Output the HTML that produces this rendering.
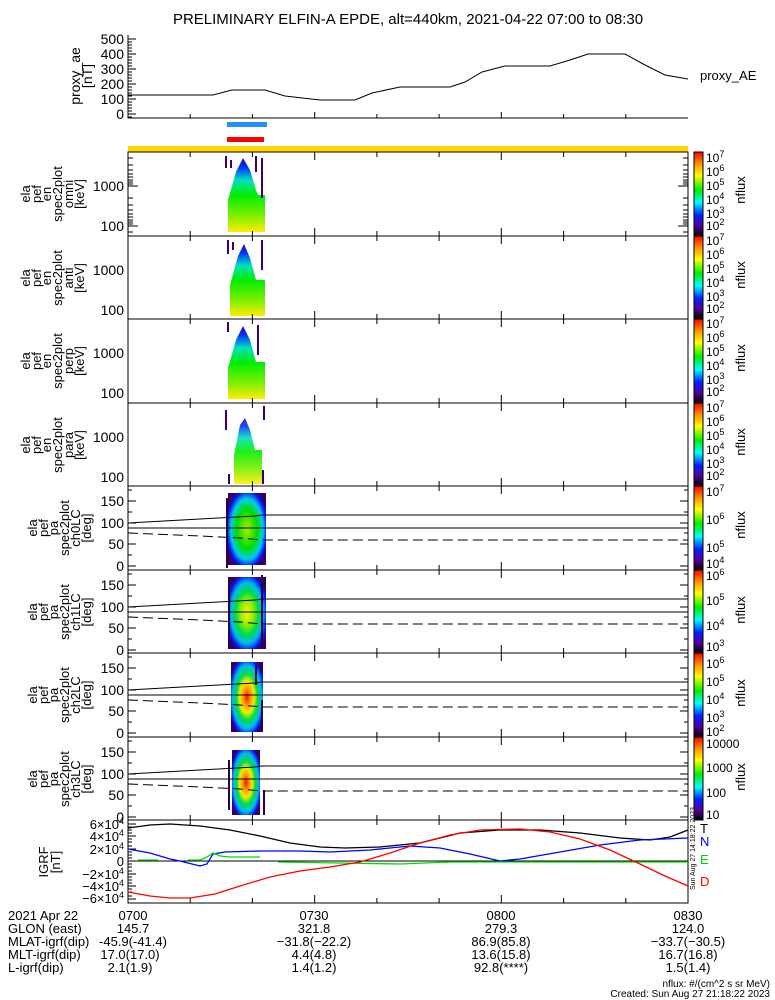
<!DOCTYPE html>
<html><head><meta charset="utf-8"><style>
html,body{margin:0;padding:0;background:#fff}
svg{display:block;font-family:"Liberation Sans",sans-serif}
text{fill:#000}
</style></head><body>
<svg width="775" height="1000" viewBox="0 0 775 1000" xmlns="http://www.w3.org/2000/svg">
<defs>
<linearGradient id="cb" x1="0" y1="0" x2="0" y2="1">
<stop offset="0" stop-color="#ff0000"/><stop offset="0.15" stop-color="#ff9900"/><stop offset="0.28" stop-color="#ffff00"/><stop offset="0.45" stop-color="#00ee00"/><stop offset="0.6" stop-color="#00ffff"/><stop offset="0.75" stop-color="#0022ff"/><stop offset="0.88" stop-color="#55009a"/><stop offset="1" stop-color="#000000"/>
</linearGradient>
<linearGradient id="en" x1="0" y1="0" x2="0" y2="1">
<stop offset="0" stop-color="#3a008a"/><stop offset="0.12" stop-color="#0030ff"/><stop offset="0.3" stop-color="#00e0c0"/><stop offset="0.5" stop-color="#00ee00"/><stop offset="0.8" stop-color="#88ee00"/><stop offset="1" stop-color="#ffee00"/>
</linearGradient>
<radialGradient id="pa0" cx="0.5" cy="0.5" r="0.6"><stop offset="0" stop-color="#aaee00"/><stop offset="0.45" stop-color="#00dd00"/><stop offset="0.7" stop-color="#00ccee"/><stop offset="0.88" stop-color="#1010ee"/><stop offset="1" stop-color="#33005a"/></radialGradient>
<radialGradient id="pa1" cx="0.5" cy="0.5" r="0.6"><stop offset="0" stop-color="#ffee00"/><stop offset="0.3" stop-color="#88ee00"/><stop offset="0.5" stop-color="#00dd44"/><stop offset="0.7" stop-color="#00bbee"/><stop offset="0.88" stop-color="#1010ee"/><stop offset="1" stop-color="#33005a"/></radialGradient>
<radialGradient id="pa2" cx="0.5" cy="0.5" r="0.6"><stop offset="0" stop-color="#ff1100"/><stop offset="0.2" stop-color="#ff9900"/><stop offset="0.38" stop-color="#eeee00"/><stop offset="0.55" stop-color="#00dd44"/><stop offset="0.75" stop-color="#00bbee"/><stop offset="0.92" stop-color="#1010ee"/><stop offset="1" stop-color="#33005a"/></radialGradient>
<g id="tk">
<path d="M190.2 0v5M252.4 0v5M314.7 0v8M376.9 0v5M439.1 0v5M501.3 0v8M563.6 0v5M625.8 0v5" stroke="#000" stroke-width="1"/>
</g>
</defs>

<text x="408" y="24" font-size="15" text-anchor="middle">PRELIMINARY ELFIN-A EPDE, alt=440km, 2021-04-22 07:00 to 08:30</text>

<!-- proxy AE -->
<g stroke="#000" fill="none">
<path d="M128 35V118H688"/>
<path d="M128 39h8M128 54h8M128 69h8M128 84h8M128 99h8M128 114h8" />
<path d="M128 42h4M128 45h4M128 48h4M128 51h4M128 57h4M128 60h4M128 63h4M128 66h4M128 72h4M128 75h4M128 78h4M128 81h4M128 87h4M128 90h4M128 93h4M128 96h4M128 102h4M128 105h4M128 108h4M128 111h4M128 117h4"/>
<path d="M190.2 118v-4M252.4 118v-4M314.7 118v-6M376.9 118v-4M439.1 118v-4M501.3 118v-6M563.6 118v-4M625.8 118v-4"/>
<path d="M128 95H213L232 90H265L285 96L320 100L355 100L372 93L400 87H450L465 82L482 72L505 66H550L570 60L588 54H625L645 65L665 75L688 79" stroke-width="1"/>
</g>
<g font-size="14" text-anchor="end"><text x="124" y="44">500</text><text x="124" y="59">400</text><text x="124" y="74">300</text><text x="124" y="89">200</text><text x="124" y="104">100</text><text x="124" y="119">0</text></g>
<text transform="translate(80,76) rotate(-90)" font-size="14" text-anchor="middle">proxy_ae</text>
<text transform="translate(92,76) rotate(-90)" font-size="14" text-anchor="middle">[nT]</text>
<text x="700" y="80" font-size="13">proxy_AE</text>

<rect x="227" y="122" width="40" height="5" fill="#1e90ff"/>
<rect x="227" y="137" width="37" height="5" fill="#ff0000"/>
<rect x="128" y="146" width="560" height="6" fill="#ffd800"/>

<!-- energy spectrogram blobs -->
<g>
<path d="M228 232V200L236 172L243 158L250 170L256 190L258 195H265V232Z" fill="url(#en)"/>
<path d="M230 316V285L238 256L244 244L250 258L256 280H265V316Z" fill="url(#en)"/>
<path d="M228 399V368L236 340L243 326L250 340L256 362H265V399Z" fill="url(#en)"/>
<path d="M234 484V455L240 425L245 418L250 430L255 450H262V484Z" fill="url(#en)" opacity="0.9"/>
<path d="M226 156v12M231 160v8M256 156v16M262 158v40M228 240v14M233 242v8M262 240v30M228 322v10M258 325v30M226 410v20M264 406v14M263 470v14M229 474v10" stroke="#3a006a" stroke-width="2"/>
</g>
<!-- PA blobs -->
<g>
<rect x="228" y="493" width="38" height="72" fill="url(#pa0)"/>
<rect x="228" y="577" width="38" height="72" fill="url(#pa1)"/>
<rect x="231" y="662" width="32" height="70" fill="url(#pa2)"/>
<rect x="232" y="750" width="28" height="65" fill="url(#pa2)"/>
<path d="M227 498v70M229 580v62M262 575v72M256 665v20M262 700v30M229 760v50M264 790v25" stroke="#2a0050" stroke-width="2"/>
</g>

<!-- spectrogram panel frames -->
<g stroke="#000" fill="none">
<rect x="128" y="152" width="560" height="84"/>
<rect x="128" y="236" width="560" height="83"/>
<rect x="128" y="319" width="560" height="84"/>
<rect x="128" y="403" width="560" height="83"/>
<rect x="128" y="486" width="560" height="84"/>
<rect x="128" y="570" width="560" height="83"/>
<rect x="128" y="653" width="560" height="84"/>
<rect x="128" y="737" width="560" height="83"/>
<rect x="128" y="820" width="560" height="83"/>
</g>
<g>
<use href="#tk" y="152"/><use href="#tk" y="236"/><use href="#tk" y="319"/><use href="#tk" y="403"/><use href="#tk" y="486"/><use href="#tk" y="570"/><use href="#tk" y="653"/><use href="#tk" y="737"/><use href="#tk" y="820"/>
<use href="#tk" transform="translate(0,236) scale(1,-1)"/><use href="#tk" transform="translate(0,319) scale(1,-1)"/><use href="#tk" transform="translate(0,403) scale(1,-1)"/><use href="#tk" transform="translate(0,486) scale(1,-1)"/><use href="#tk" transform="translate(0,570) scale(1,-1)"/><use href="#tk" transform="translate(0,653) scale(1,-1)"/><use href="#tk" transform="translate(0,737) scale(1,-1)"/><use href="#tk" transform="translate(0,820) scale(1,-1)"/><use href="#tk" transform="translate(0,903) scale(1,-1)"/>
</g>
<!-- energy y ticks -->
<g stroke="#000">
<path d="M128 186h10M128 226h10M128 158h5M128 165h5M128 170h5M128 174h5M128 177h5M128 180h5M128 182h5M128 184h5M128 198h5M128 205h5M128 210h5M128 214h5M128 217h5M128 220h5M128 222h5M128 224h5M128 232h5M688 186h-10M688 226h-10M688 158h-5M688 165h-5M688 170h-5M688 174h-5M688 177h-5M688 180h-5M688 182h-5M688 184h-5M688 198h-5M688 205h-5M688 210h-5M688 214h-5M688 217h-5M688 220h-5M688 222h-5M688 224h-5M688 232h-5" id="ey"/>
</g>
<use href="#ey" y="84"/><use href="#ey" y="167"/><use href="#ey" y="251"/>
<g font-size="14" text-anchor="end">
<text x="124" y="191">1000</text><text x="124" y="231">100</text>
<text x="124" y="275">1000</text><text x="124" y="315">100</text>
<text x="124" y="358">1000</text><text x="124" y="398">100</text>
<text x="124" y="442">1000</text><text x="124" y="482">100</text>
</g>
<!-- PA y ticks + lines -->
<g id="pa">
<g stroke="#000" fill="none">
<path d="M128 566h8M128 544h8M128 523h8M128 501h8M128 490h4M128 555h4M128 533h4M128 512h4M688 566h-8M688 544h-8M688 523h-8M688 501h-8M688 555h-4M688 533h-4M688 512h-4M688 490h-4"/>
<path d="M128 523L200 519L255 516L262 515H688"/>
<path d="M128 528H688"/>
<path d="M128 533L200 536L240 538L262 540H688" stroke-dasharray="10,5"/>
</g>
<g font-size="14" text-anchor="end"><text x="124" y="571">0</text><text x="124" y="549">50</text><text x="124" y="528">100</text><text x="124" y="506">150</text></g>
</g>
<use href="#pa" y="84"/><use href="#pa" y="167"/><use href="#pa" y="251"/>

<!-- left labels -->
<g font-size="13" text-anchor="middle">
<g transform="translate(0,194)"><text transform="translate(30,0) rotate(-90)">ela</text><text transform="translate(41,0) rotate(-90)">pef</text><text transform="translate(51,0) rotate(-90)">en</text><text transform="translate(62,0) rotate(-90)">spec2plot</text><text transform="translate(73,0) rotate(-90)">omni</text><text transform="translate(84,0) rotate(-90)">[keV]</text></g>
<g transform="translate(0,278)"><text transform="translate(30,0) rotate(-90)">ela</text><text transform="translate(41,0) rotate(-90)">pef</text><text transform="translate(51,0) rotate(-90)">en</text><text transform="translate(62,0) rotate(-90)">spec2plot</text><text transform="translate(73,0) rotate(-90)">anti</text><text transform="translate(84,0) rotate(-90)">[keV]</text></g>
<g transform="translate(0,361)"><text transform="translate(30,0) rotate(-90)">ela</text><text transform="translate(41,0) rotate(-90)">pef</text><text transform="translate(51,0) rotate(-90)">en</text><text transform="translate(62,0) rotate(-90)">spec2plot</text><text transform="translate(73,0) rotate(-90)">perp</text><text transform="translate(84,0) rotate(-90)">[keV]</text></g>
<g transform="translate(0,445)"><text transform="translate(30,0) rotate(-90)">ela</text><text transform="translate(41,0) rotate(-90)">pef</text><text transform="translate(51,0) rotate(-90)">en</text><text transform="translate(62,0) rotate(-90)">spec2plot</text><text transform="translate(73,0) rotate(-90)">para</text><text transform="translate(84,0) rotate(-90)">[keV]</text></g>
<g transform="translate(0,528)"><text transform="translate(37,0) rotate(-90)">ela</text><text transform="translate(48,0) rotate(-90)">pef</text><text transform="translate(58,0) rotate(-90)">pa</text><text transform="translate(69,0) rotate(-90)">spec2plot</text><text transform="translate(80,0) rotate(-90)">ch0LC</text><text transform="translate(91,0) rotate(-90)">[deg]</text></g>
<g transform="translate(0,612)"><text transform="translate(37,0) rotate(-90)">ela</text><text transform="translate(48,0) rotate(-90)">pef</text><text transform="translate(58,0) rotate(-90)">pa</text><text transform="translate(69,0) rotate(-90)">spec2plot</text><text transform="translate(80,0) rotate(-90)">ch1LC</text><text transform="translate(91,0) rotate(-90)">[deg]</text></g>
<g transform="translate(0,695)"><text transform="translate(37,0) rotate(-90)">ela</text><text transform="translate(48,0) rotate(-90)">pef</text><text transform="translate(58,0) rotate(-90)">pa</text><text transform="translate(69,0) rotate(-90)">spec2plot</text><text transform="translate(80,0) rotate(-90)">ch2LC</text><text transform="translate(91,0) rotate(-90)">[deg]</text></g>
<g transform="translate(0,779)"><text transform="translate(37,0) rotate(-90)">ela</text><text transform="translate(48,0) rotate(-90)">pef</text><text transform="translate(58,0) rotate(-90)">pa</text><text transform="translate(69,0) rotate(-90)">spec2plot</text><text transform="translate(80,0) rotate(-90)">ch3LC</text><text transform="translate(91,0) rotate(-90)">[deg]</text></g>
<text transform="translate(48,862) rotate(-90)">IGRF</text><text transform="translate(60,862) rotate(-90)">[nT]</text>
</g>

<!-- colorbars -->
<g stroke="#000" stroke-width="1">
<rect x="694" y="152" width="9" height="84" fill="url(#cb)"/>
<rect x="694" y="236" width="9" height="83" fill="url(#cb)"/>
<rect x="694" y="319" width="9" height="84" fill="url(#cb)"/>
<rect x="694" y="403" width="9" height="83" fill="url(#cb)"/>
<rect x="694" y="486" width="9" height="84" fill="url(#cb)"/>
<rect x="694" y="570" width="9" height="83" fill="url(#cb)"/>
<rect x="694" y="653" width="9" height="84" fill="url(#cb)"/>
<rect x="694" y="737" width="9" height="83" fill="url(#cb)"/>
</g>
<g font-size="12">
<text x="706" y="162">10<tspan dy="-5" font-size="9">7</tspan></text><text x="706" y="176">10<tspan dy="-5" font-size="9">6</tspan></text><text x="706" y="190">10<tspan dy="-5" font-size="9">5</tspan></text><text x="706" y="204">10<tspan dy="-5" font-size="9">4</tspan></text><text x="706" y="218">10<tspan dy="-5" font-size="9">3</tspan></text><text x="706" y="230">10<tspan dy="-5" font-size="9">2</tspan></text>
<text x="706" y="245">10<tspan dy="-5" font-size="9">7</tspan></text><text x="706" y="259">10<tspan dy="-5" font-size="9">6</tspan></text><text x="706" y="273">10<tspan dy="-5" font-size="9">5</tspan></text><text x="706" y="287">10<tspan dy="-5" font-size="9">4</tspan></text><text x="706" y="301">10<tspan dy="-5" font-size="9">3</tspan></text><text x="706" y="313">10<tspan dy="-5" font-size="9">2</tspan></text>
<text x="706" y="328">10<tspan dy="-5" font-size="9">7</tspan></text><text x="706" y="342">10<tspan dy="-5" font-size="9">6</tspan></text><text x="706" y="356">10<tspan dy="-5" font-size="9">5</tspan></text><text x="706" y="370">10<tspan dy="-5" font-size="9">4</tspan></text><text x="706" y="384">10<tspan dy="-5" font-size="9">3</tspan></text><text x="706" y="396">10<tspan dy="-5" font-size="9">2</tspan></text>
<text x="706" y="412">10<tspan dy="-5" font-size="9">7</tspan></text><text x="706" y="426">10<tspan dy="-5" font-size="9">6</tspan></text><text x="706" y="440">10<tspan dy="-5" font-size="9">5</tspan></text><text x="706" y="454">10<tspan dy="-5" font-size="9">4</tspan></text><text x="706" y="468">10<tspan dy="-5" font-size="9">3</tspan></text><text x="706" y="480">10<tspan dy="-5" font-size="9">2</tspan></text>
<text x="706" y="496">10<tspan dy="-5" font-size="9">7</tspan></text><text x="706" y="524">10<tspan dy="-5" font-size="9">6</tspan></text><text x="706" y="552">10<tspan dy="-5" font-size="9">5</tspan></text><text x="706" y="568">10<tspan dy="-5" font-size="9">4</tspan></text>
<text x="706" y="580">10<tspan dy="-5" font-size="9">6</tspan></text><text x="706" y="605">10<tspan dy="-5" font-size="9">5</tspan></text><text x="706" y="630">10<tspan dy="-5" font-size="9">4</tspan></text><text x="706" y="651">10<tspan dy="-5" font-size="9">3</tspan></text>
<text x="706" y="668">10<tspan dy="-5" font-size="9">6</tspan></text><text x="706" y="686">10<tspan dy="-5" font-size="9">5</tspan></text><text x="706" y="704">10<tspan dy="-5" font-size="9">4</tspan></text><text x="706" y="722">10<tspan dy="-5" font-size="9">3</tspan></text><text x="706" y="736">10<tspan dy="-5" font-size="9">2</tspan></text>
<text x="706" y="748">10000</text><text x="706" y="772">1000</text><text x="706" y="797">100</text><text x="706" y="819">10</text>
</g>
<g font-size="13" text-anchor="middle">
<text transform="translate(745,190) rotate(-90)">nflux</text><text transform="translate(745,275) rotate(-90)">nflux</text><text transform="translate(745,358) rotate(-90)">nflux</text><text transform="translate(745,442) rotate(-90)">nflux</text><text transform="translate(745,525) rotate(-90)">nflux</text><text transform="translate(745,610) rotate(-90)">nflux</text><text transform="translate(745,693) rotate(-90)">nflux</text><text transform="translate(745,777) rotate(-90)">nflux</text>
</g>

<!-- IGRF panel -->
<g stroke="#000" fill="none">
<path d="M128 824h8M128 836h8M128 849h8M128 861h8M128 874h8M128 886h8M128 899h8M128 827h4M128 830h4M128 833h4M128 839h4M128 842h4M128 846h4M128 852h4M128 855h4M128 858h4M128 864h4M128 867h4M128 871h4M128 877h4M128 880h4M128 883h4M128 889h4M128 892h4M128 896h4"/>
<path d="M128 861H688"/>
</g>
<g fill="none" stroke-width="1.3">
<path d="M128 828L150 825L170 824L200 826L230 830L260 836L290 843L320 847L345 848L380 847L420 843L460 833L500 830L540 830L580 833L620 838L650 840L670 837L688 830" stroke="#000"/>
<path d="M128 849L150 853L170 859L180 861L200 866L207 864L213 854L225 852L260 851L300 851L330 852L370 850L410 846L440 848L470 854L500 861L520 859L560 852L600 845L640 840L688 838" stroke="#0000ff"/>
<path d="M138 860H158M188 860H200L207 857L213 853L220 856L230 857H260M278 862L340 863L400 864L450 862L500 862L540 862L590 862L640 862L688 862" stroke="#00dd00"/>
<path d="M128 892L150 896L170 898L190 898L215 894L240 886L270 877L300 871L330 867L360 862L390 853L420 843L450 835L480 830L520 829L550 832L580 839L610 850L640 864L665 876L688 886" stroke="#ff0000"/>
</g>
<g font-size="13" text-anchor="end">
<text x="124" y="829">6×10<tspan dy="-5" font-size="9">4</tspan></text>
<text x="124" y="841">4×10<tspan dy="-5" font-size="9">4</tspan></text>
<text x="124" y="854">2×10<tspan dy="-5" font-size="9">4</tspan></text>
<text x="124" y="866">0</text>
<text x="124" y="879">−2×10<tspan dy="-5" font-size="9">4</tspan></text>
<text x="124" y="891">−4×10<tspan dy="-5" font-size="9">4</tspan></text>
<text x="124" y="903">−6×10<tspan dy="-5" font-size="9">4</tspan></text>
</g>
<g font-size="13">
<text x="700" y="833" fill="#000">T</text>
<text x="700" y="846" style="fill:#0000ff">N</text>
<text x="700" y="864" style="fill:#00cc00">E</text>
<text x="700" y="886" style="fill:#ff0000">D</text>
</g>
<text transform="translate(695,890) rotate(-90)" font-size="7">Sun Aug 27 14:18:22 2023</text>

<!-- bottom annotation -->
<g font-size="13">
<text x="8" y="920">2021 Apr 22</text><text x="8" y="933">GLON (east)</text><text x="8" y="946">MLAT-igrf(dip)</text><text x="8" y="959">MLT-igrf(dip)</text><text x="8" y="972">L-igrf(dip)</text>
</g>
<g font-size="13" text-anchor="middle">
<text x="133" y="920">0700</text><text x="133" y="933">145.7</text><text x="133" y="946">-45.9(-41.4)</text><text x="130" y="959">17.0(17.0)</text><text x="130" y="972">2.1(1.9)</text>
<text x="314" y="920">0730</text><text x="314" y="933">321.8</text><text x="314" y="946">−31.8(−22.2)</text><text x="314" y="959">4.4(4.8)</text><text x="314" y="972">1.4(1.2)</text>
<text x="501" y="920">0800</text><text x="501" y="933">279.3</text><text x="501" y="946">86.9(85.8)</text><text x="501" y="959">13.6(15.8)</text><text x="501" y="972">92.8(****)</text>
<text x="688" y="920">0830</text><text x="688" y="933">124.0</text><text x="688" y="946">−33.7(−30.5)</text><text x="688" y="959">16.7(16.8)</text><text x="688" y="972">1.5(1.4)</text>
</g>
<g font-size="10" text-anchor="end"><text x="770" y="987">nflux: #/(cm^2 s sr MeV)</text><text x="770" y="997">Created: Sun Aug 27 21:18:22 2023</text></g>
</svg>
</body></html>
